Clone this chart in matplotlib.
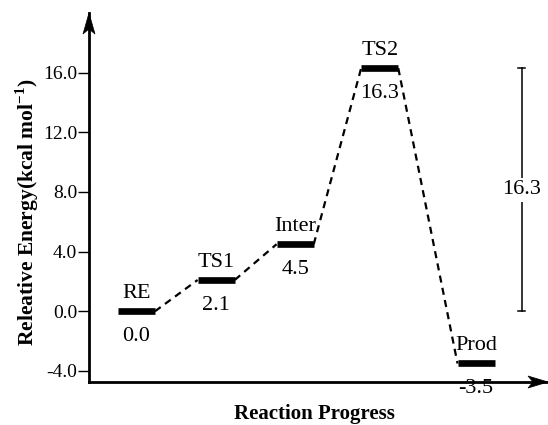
import matplotlib
matplotlib.use("Agg")
import matplotlib.pyplot as plt
from matplotlib.patches import Polygon

plt.rcParams['font.family'] = ['Liberation Serif', 'DejaVu Serif']
plt.rcParams['mathtext.fontset'] = 'custom'
plt.rcParams['mathtext.rm'] = 'Liberation Serif'
plt.rcParams['mathtext.bf'] = 'Liberation Serif:bold'

# Data
stages = ["RE", "TS1", "Inter", "TS2", "Prod"]
energies = [0.0, 2.1, 4.5, 16.3, -3.5]
stage_x = [0.6, 1.61, 2.61, 3.68, 4.9]
value_labels = ["0.0", "2.1", "4.5", "16.3", "-3.5"]
barrier = 16.3
yticks = [-4.0, 0.0, 4.0, 8.0, 12.0, 16.0]
ytick_labels = ["-4.0", "0.0", "4.0", "8.0", "12.0", "16.0"]

W, H = 548, 425
fig = plt.figure(figsize=(W / 100, H / 100), dpi=100)
ax_left, ax_right = 89, 548
ax_top, ax_bottom = 13, 382
ax = fig.add_axes([ax_left / W, 1 - ax_bottom / H, (ax_right - ax_left) / W, (ax_bottom - ax_top) / H])

ppu = 14.85
ymin = -4 - (ax_bottom - 371) / ppu
ymax = (310 - ax_top) / ppu
ax.set_ylim(ymin, ymax)
ax.set_xlim(0, (ax_right - ax_left) / 79.0)

half = 0.235
# levels
for x, e in zip(stage_x, energies):
    ax.plot([x - half, x + half], [e, e], color='black', lw=4.8, solid_capstyle='butt', zorder=3)

# connectors
for i in range(len(energies) - 1):
    ax.plot([stage_x[i] + half, stage_x[i + 1] - half], [energies[i], energies[i + 1]],
            color='black', lw=1.6, ls=(0, (3.2, 2.4)), zorder=2)

# labels
for x, e, name, v in zip(stage_x, energies, stages, value_labels):
    ax.text(x, e + 0.88, name, ha='center', va='baseline', fontsize=16)
    ax.text(x, e - 2.0, v, ha='center', va='baseline', fontsize=16)

# barrier bar
bx = 5.475
ax.plot([bx, bx], [0, barrier], color='black', lw=1.1)
ax.plot([bx - 0.05, bx + 0.05], [0, 0], color='black', lw=1.1)
ax.plot([bx - 0.05, bx + 0.05], [barrier, barrier], color='black', lw=1.1)
ax.text(bx, barrier / 2, f"{barrier:.1f}", ha='center', va='center', fontsize=16,
        bbox=dict(facecolor='white', edgecolor='none', pad=2))

# axes styling
for s in ['top', 'right']:
    ax.spines[s].set_visible(False)
ax.spines['left'].set_linewidth(2)
ax.spines['bottom'].set_linewidth(2)
ax.set_xticks([])
ax.set_yticks(yticks)
ax.set_yticklabels(ytick_labels, fontsize=14)
ax.tick_params(axis='y', direction='out', length=8, width=1.0, pad=0.5)
ax.patch.set_alpha(0)

# arrow heads (pixel geometry)
def px(x, y):
    return (x / 100, (H - y) / 100)

yhead = Polygon([px(89, 13), px(83, 34), px(89, 29), px(95, 34)], closed=True,
                facecolor='black', edgecolor='black', lw=0.5, transform=fig.dpi_scale_trans)
xhead = Polygon([px(548, 382), px(528, 376), px(533, 382), px(528, 388)], closed=True,
                facecolor='black', edgecolor='black', lw=0.5, transform=fig.dpi_scale_trans)
fig.add_artist(yhead)
fig.add_artist(xhead)

fig.text(314 / W, 1 - 414 / H, "Reaction Progress", ha='center', va='center',
         fontsize=15, fontweight='bold')
fig.text(27 / W, 1 - 212 / H, r"Releative Energy(kcal mol$^{\mathbf{-1}}$)", ha='center', va='center',
         fontsize=15.5, fontweight='bold', rotation=90)

fig.savefig("out.png", dpi=100)
